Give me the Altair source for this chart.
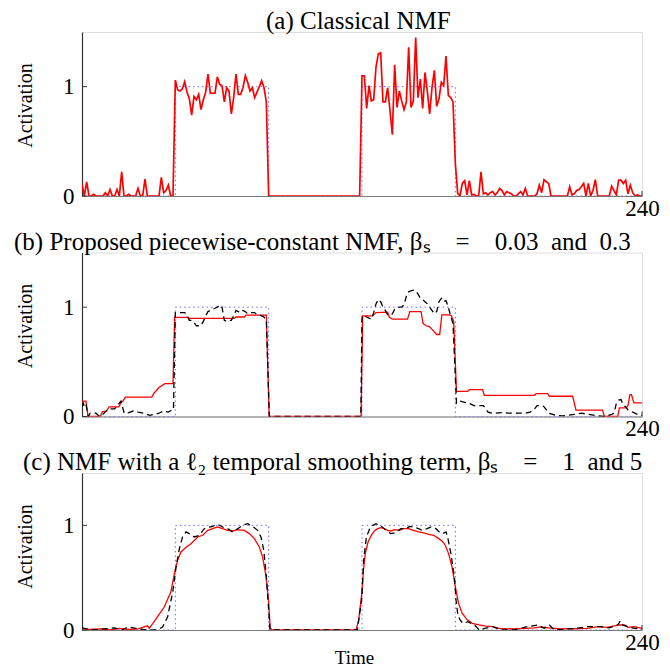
import altair as alt
import pandas as pd

FONT = "Liberation Serif"

# ---------------- data ----------------
true_t = [0, 40, 40, 80, 80, 120, 120, 160, 160, 240]
true_v = [0, 0, 1, 1, 0, 0, 1, 1, 0, 0]

# (a) classical NMF
a_t = ([0, 1, 2, 3, 4, 5, 6, 9, 10, 11, 12, 13, 14, 15, 16, 17, 18, 19, 20, 21, 23, 24, 25, 26,
        27, 28, 33, 34, 35, 36, 37, 38, 39]
       + list(range(40, 80)) + [80, 119] + list(range(120, 160)) + [160]
       + list(range(161, 192)) + [194, 195, 196, 197, 198, 199, 200, 201, 208]
       + list(range(209, 222)) + [226] + list(range(227, 241)))
a_v = ([0.11, 0, 0.13, 0, 0, 0.015, 0, 0, 0.03, 0, 0.06, 0, 0, 0.06, 0, 0.22, 0, 0, 0.015, 0, 0,
        0.07, 0, 0, 0.155, 0, 0, 0.17, 0.03, 0.05, 0.10, 0, 0]
       + [1.06, 0.97, 0.96, 0.98, 1.045, 0.95, 0.89, 0.74, 0.91, 0.88, 0.93, 0.79, 0.88, 0.95,
          1.115, 0.94, 0.94, 0.94, 1.09, 1.02, 1.01, 0.86, 0.99, 0.96, 0.75, 0.90, 1.115, 0.93,
          0.93, 0.99, 1.10, 1.04, 0.96, 0.99, 0.90, 0.95, 1.0, 1.055, 0.99, 0.86]
       + [0, 0]
       + [1.1, 1.1, 0.80, 1.01, 0.87, 0.88, 1.18, 1.30, 1.31, 0.86, 0.86, 0.99, 0.78, 0.56, 1.20,
          0.81, 0.96, 0.87, 0.79, 0.86, 1.36, 0.81, 0.87, 1.45, 0.90, 1.07, 0.80, 1.13, 0.96, 0.75,
          0.99, 1.15, 0.82, 0.89, 1.04, 1.01, 1.28, 0.92, 0.90, 0.86]
       + [0.3]
       + [0.024, 0, 0.115, 0.14, 0.01, 0.14, 0.01, 0.015, 0, 0, 0.22, 0.02, 0.03, 0.01, 0.03, 0.04,
          0.01, 0.03, 0.07, 0.05, 0.01, 0.04, 0.03, 0.02, 0, 0, 0.02, 0.04, 0.01, 0.07, 0]
       + [0, 0.02, 0.10, 0.03, 0.15, 0.13, 0.115, 0, 0]
       + [0.085, 0.01, 0.02, 0.05, 0.06, 0.085, 0.115, 0, 0.115, 0, 0.05, 0.15, 0]
       + [0]
       + [0.09, 0.05, 0.01, 0.145, 0.145, 0.115, 0.145, 0.02, 0.10, 0.03, 0, 0.01, 0, 0])

# (b) piecewise-constant NMF, red (beta_s = 0.03)
b_red_t = [0, 1.7, 2.6, 7.8, 8.8, 10.5, 11.6, 15.8, 16.8, 17.5, 18.6, 29.9, 30.9, 32, 33, 35.5,
           39, 39.7, 45.3, 46, 65.3, 66, 69.6, 70.3, 79, 80.2,
           119.6, 120.3, 124.5, 126, 131, 131.7, 133, 139.5, 140.5, 145.3, 146.2, 147.5, 149,
           150.3, 152, 153.3, 154.2, 157.5, 158.3, 159.3, 160.5, 165.3, 166, 171.7, 172.4,
           193.9, 194.6, 199.6, 200.3, 210.3, 211.7, 223.1, 223.9, 229.6, 230.3, 233.3, 234,
           234.8, 235.5, 236.5, 240]
b_red_v = [0.14, 0.14, 0, 0, 0.045, 0.05, 0.088, 0.088, 0.13, 0.14, 0.178, 0.178, 0.215, 0.24,
           0.265, 0.30, 0.30, 0.906, 0.906, 0.897, 0.897, 0.91, 0.91, 0.927, 0.927, 0,
           0, 0.92, 0.92, 0.95, 0.955, 0.91, 0.89, 0.89, 0.96, 0.96, 0.85, 0.83, 0.82,
           0.79, 0.75, 0.75, 0.93, 0.93, 0.92, 0.87, 0.23, 0.23, 0.245, 0.245, 0.194,
           0.194, 0.209, 0.209, 0.185, 0.185, 0.058, 0.058, 0, 0, 0.079, 0.079, 0.1,
           0.2, 0.2, 0.124, 0.124]

# (b) black dashed (beta_s = 0.3)
b_blk_t = ([0, 0.6, 1.2, 1.8, 2.7, 3.5, 6, 7.5, 9, 10.3, 12, 14, 16.7, 18.1, 20, 22, 24, 26.5,
            29, 31, 33, 35, 37, 38.5, 39.2]
           + list(range(40, 80)) + [80.3, 119.5] + list(range(120, 160))
           + [160.5, 162, 164, 166, 168, 170, 172, 174, 176, 180, 183, 186, 190, 192, 194, 195,
              197, 198, 200, 203, 206, 211, 214, 217, 221, 224, 227, 228, 229, 230, 231, 232,
              233, 234, 236, 238, 240])
b_blk_v = ([0.09, 0.12, 0.08, 0.1, 0, 0.03, 0.03, 0, 0.02, 0.05, 0.07, 0.07, 0.14, 0.03, 0.035,
            0.05, 0.04, 0.03, 0.01, 0.02, 0.03, 0.05, 0.04, 0.06, 0.06]
           + [0.95, 0.95, 0.95, 0.95, 0.95, 0.93, 0.88, 0.88, 0.86, 0.83, 0.83, 0.83, 0.87, 0.92,
              0.96, 0.97, 0.98, 0.99, 1.0, 1.02, 1.0, 0.88, 0.87, 0.88, 0.88, 0.92, 0.97, 0.96,
              0.95, 0.97, 0.96, 0.94, 0.95, 0.95, 0.95, 0.93, 0.93, 0.92, 0.91, 0.88]
           + [0, 0]
           + [0.92, 0.92, 0.91, 0.90, 0.89, 0.95, 1.03, 1.07, 1.05, 1.0, 0.97, 0.93, 0.93, 0.94,
              0.98, 0.99, 1.0, 1.0, 1.02, 1.10, 1.14, 1.15, 1.155, 1.15, 1.12, 1.08, 1.07, 1.05,
              1.03, 1.0, 0.97, 0.94, 0.96, 1.05, 1.08, 1.05, 1.06, 1.0, 0.92, 0.85]
           + [0.12, 0.14, 0.13, 0.12, 0.10, 0.10, 0.10, 0.04, 0.03, 0.035, 0.03, 0.03, 0.03, 0.04,
              0.07, 0.1, 0.1, 0.09, 0.03, 0.01, 0.005, 0.02, 0.03, 0.02, 0.005, 0.0, 0.02, 0.03,
              0.12, 0.15, 0.155, 0.1, 0.09, 0.06, 0.04, 0.02, 0.01])

# (c) l2 smoothing, red (beta_s = 1)
c_red_t = [0, 3, 8, 12, 16, 20, 24, 26.7, 28, 28.8, 30.3, 32.4, 35.3, 38.1, 39.6, 41, 42.4, 44.6,
           46.7, 49.6, 51.7, 53.9, 56, 58.1, 60.3, 62.4, 64.6, 66.7, 69.6, 71.7, 73.9, 76, 77.4,
           78.9, 79.9, 80.7, 81.5, 117.5, 118.6, 119.9, 120.6, 121.4, 122.6, 124, 125.3, 126.7,
           128.1, 129.6, 131, 132.4, 133.9, 136.1, 137.6, 139.9, 142.1, 144.3, 146.4, 148.6,
           150.7, 152.9, 154.3, 155.7, 157.1, 158.6, 160, 161.4, 162.9, 165, 167.3, 170.1, 173,
           175.9, 178.7, 182, 186, 190, 194, 196.7, 200, 205, 210, 216.7, 221, 225, 230.3, 232.4,
           234, 236.7, 240]
c_red_v = [0.016, 0.005, 0.01, 0.0, 0.015, 0.005, 0.01, 0.03, 0.04, 0.015, 0.06, 0.127, 0.222,
           0.365, 0.54, 0.667, 0.746, 0.79, 0.825, 0.889, 0.905, 0.952, 0.968, 0.984, 0.968,
           0.952, 0.946, 0.959, 0.952, 0.921, 0.873, 0.794, 0.698, 0.508, 0.286, 0.016, 0, 0,
           0.1, 0.35, 0.57, 0.73, 0.84, 0.905, 0.946, 0.968, 0.978, 0.968, 0.952, 0.946, 0.959,
           0.952, 0.968, 0.968, 0.952, 0.937, 0.927, 0.914, 0.905, 0.873, 0.851, 0.81, 0.73, 0.6,
           0.413, 0.254, 0.16, 0.1, 0.063, 0.048, 0.038, 0.032, 0.016, 0.012, 0.01, 0.015, 0.02,
           0.03, 0.02, 0.01, 0.012, 0.016, 0.032, 0.025, 0.048, 0.048, 0.025, 0.032, 0.016]

# (c) black dashed (beta_s = 5)
c_blk_t = [0, 2, 5, 9, 14, 17, 20, 22, 24, 28, 32.4, 34.6, 36.7, 38.9, 40.3, 41.7, 43.1, 44.6,
           46, 48.1, 50.3, 52.4, 54.6, 56, 58.1, 60.3, 62.4, 64.6, 66.7, 68.9, 71, 73.1, 75.3,
           76.7, 77.9, 78.9, 79.9, 80.6, 118, 119.9, 120.7, 121.9, 123.3, 124.7, 126, 127.4,
           128.7, 131, 132.4, 133.9, 135.3, 136.7, 139, 140.4, 142.1, 144.3, 145.7, 147.9, 149.6,
           151.7, 153.1, 154.6, 156, 156.7, 158.1, 159.6, 160.3, 161, 161.9, 163.3, 165.4, 168.1,
           170.3, 172.6, 176, 180, 185, 188.1, 191, 195.3, 198.1, 200.3, 202.4, 208, 212, 216.7,
           222.4, 226, 229.6, 230.7, 231.7, 234, 236.7, 240]
c_blk_v = [0.02, 0.01, 0.0, 0.01, 0.02, 0.0, 0.03, 0.02, 0.01, 0.0, 0.0, 0.03, 0.127, 0.365, 0.6,
           0.775, 0.889, 0.937, 0.921, 0.889, 0.905, 0.968, 0.984, 0.99, 1.01, 0.984, 0.968,
           0.937, 0.968, 1.0, 1.016, 0.99, 0.952, 0.889, 0.762, 0.54, 0.222, 0, 0, 0.3, 0.667,
           0.889, 0.968, 1.0, 1.016, 1.0, 0.984, 0.937, 0.921, 0.927, 0.946, 0.968, 0.968, 0.99,
           0.984, 0.968, 0.952, 0.968, 0.984, 0.968, 0.937, 0.921, 0.937, 0.889, 0.73, 0.508,
           0.286, 0.16, 0.1, 0.063, 0.079, 0.048, 0.0, 0.016, 0.032, 0.0, 0.0, 0.016, 0.032,
           0.048, 0.016, 0.048, 0.0, 0.01, 0.016, 0.032, 0.032, 0.02, 0.048, 0.087, 0.048,
           0.032, 0.016, 0.016]

titles = [
    "(a) Classical NMF",
    "(b) Proposed piecewise-constant NMF, \u03b2\u209b\u2003=\u20030.03\u2002and\u20020.3",
    "(c) NMF with a \u2113\u2082 temporal smoothing term, \u03b2\u209b\u2003=\u20031\u2002and 5",
]
title_dx = [184, -68, -59]
y_ticks = [0, 1]
x_ticks = [240]

# ---------------- chart ----------------
W = 560


def frame(t, v):
    return pd.DataFrame({"t": t, "v": v, "i": list(range(len(t)))})


def panel(k, series, height, time_title):
    xs = alt.Scale(domain=[0, 240], nice=False, zero=False)
    ys = alt.Scale(domain=[0, 1.5], nice=False)
    xa = dict(values=x_ticks, ticks=False, grid=False, domainColor="#7a7a7a",
              domainWidth=1.2, labelFont=FONT, labelFontSize=23, labelColor="#000",
              labelPadding=1, labelFlush=False)
    if time_title:
        xa.update(title=time_title, titleFont=FONT, titleFontSize=19, titleFontWeight="normal",
                  titleColor="#000", titleX=272, titleY=33, titleBaseline="alphabetic")
    else:
        xa.update(title=None)
    x_axis = alt.Axis(**xa)
    y_axis = alt.Axis(values=y_ticks, ticks=False, grid=False, domainColor="#333",
                      domainWidth=1.2, labelFont=FONT, labelFontSize=23, labelColor="#000",
                      labelPadding=8, title="Activation", titleFont=FONT, titleFontSize=20,
                      titleFontWeight="normal", titleColor="#000", titleAngle=270,
                      titleX=-51, titleY=73, titleAlign="center", titleBaseline="alphabetic")
    layers = []
    for (t, v, color, dash, width) in series:
        mk = dict(color=color, strokeWidth=width, clip=True)
        if dash:
            mk["strokeDash"] = dash
        layers.append(
            alt.Chart(frame(t, v)).mark_line(**mk).encode(
                x=alt.X("t:Q", scale=xs, axis=x_axis),
                y=alt.Y("v:Q", scale=ys, axis=y_axis),
                order="i:Q",
            )
        )
    ytick = alt.Chart(pd.DataFrame({"v": y_ticks})).mark_rule(color="#333", strokeWidth=1).encode(
        y=alt.Y("v:Q", scale=ys, axis=y_axis), x=alt.value(0), x2=alt.value(5))
    xtick = alt.Chart(pd.DataFrame({"t": x_ticks})).mark_rule(color="#333", strokeWidth=1).encode(
        x=alt.X("t:Q", scale=xs, axis=x_axis), y=alt.value(height), y2=alt.value(height - 5))
    return alt.layer(*layers, ytick, xtick).properties(
        width=W, height=height,
        title=alt.TitleParams(titles[k], font=FONT, fontSize=25, fontWeight="normal",
                              color="#000", anchor="start", frame="group", dx=title_dx[k],
                              offset=-2),
    )


blue = (true_t, true_v, "#6a6aff", [1.5, 3], 1)
pa = panel(0, [blue, (a_t, a_v, "#ff0000", None, 1.7)], 164, None)
pb = panel(1, [blue, (b_red_t, b_red_v, "#ff0000", None, 1.3),
               (b_blk_t, b_blk_v, "#000000", [6, 4], 1.3)], 164, None)
pc = panel(2, [blue, (c_red_t, c_red_v, "#ff0000", None, 1.3),
               (c_blk_t, c_blk_v, "#000000", [6, 4], 1.3)], 157, "Time")

chart = alt.vconcat(pa, pb, pc, spacing=56.5, bounds="flush").properties(
    padding={"left": 5, "top": 0, "right": 0, "bottom": 0}
).configure_view(stroke=None).configure(background="#ffffff")

chart.save("out.html", embed_options={"renderer": "svg", "actions": False})
